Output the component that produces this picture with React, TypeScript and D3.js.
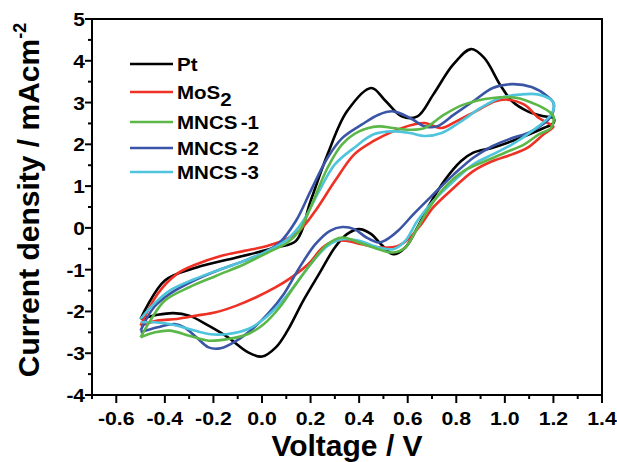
import React from "react";
import * as d3 from "d3";

type P = [number, number];

const xTicks = [-0.6, -0.4, -0.2, 0.0, 0.2, 0.4, 0.6, 0.8, 1.0, 1.2, 1.4];
const xMinor = [-0.7, -0.5, -0.3, -0.1, 0.1, 0.3, 0.5, 0.7, 0.9, 1.1, 1.3];
const yTicks = [-4, -3, -2, -1, 0, 1, 2, 3, 4, 5];
const yMinor = [-3.5, -2.5, -1.5, -0.5, 0.5, 1.5, 2.5, 3.5, 4.5];

const seriesNames = ["Pt", "MoS2", "MNCS-1", "MNCS-2", "MNCS-3"];
const seriesColors = ["#000000", "#ee3124", "#5bb848", "#3a55a6", "#4fc4dd"];

const ptData: P[] = [
  [-0.5, -2.18], [-0.4, -1.26], [-0.27, -0.95], [-0.105, -0.71], [0.057, -0.47], [0.14, -0.31],
  [0.2, 0.64], [0.27, 1.76], [0.35, 2.79], [0.45, 3.35], [0.51, 3.03], [0.575, 2.67], [0.64, 2.67],
  [0.705, 3.19], [0.786, 3.9], [0.86, 4.28], [0.915, 4.07], [0.98, 3.43], [1.03, 3.03], [1.094, 2.79],
  [1.16, 2.67], [1.2, 2.63], [1.2, 2.51], [1.16, 2.39], [1.03, 2.08], [0.95, 1.92], [0.87, 1.8],
  [0.82, 1.6], [0.75, 1.12], [0.69, 0.56], [0.64, 0.01], [0.59, -0.47], [0.54, -0.63], [0.49, -0.39],
  [0.45, -0.15], [0.4, -0.03], [0.35, -0.15], [0.3, -0.47], [0.235, -1.1], [0.17, -1.74], [0.105, -2.46],
  [0.057, -2.86], [0.0, -3.08], [-0.057, -2.98], [-0.14, -2.62], [-0.22, -2.34], [-0.3, -2.1],
  [-0.365, -2.04], [-0.43, -2.08], [-0.48, -2.15], [-0.5, -2.18],
];

const mos2Data: P[] = [
  [-0.5, -2.34], [-0.43, -1.58], [-0.35, -1.1], [-0.27, -0.87], [-0.17, -0.67], [-0.073, -0.55],
  [0.024, -0.43], [0.105, -0.25], [0.154, -0.07], [0.22, 0.41], [0.3, 1.12], [0.38, 1.76], [0.46, 2.08],
  [0.54, 2.31], [0.62, 2.47], [0.67, 2.51], [0.74, 2.39], [0.8, 2.55], [0.88, 2.79], [0.96, 3.03],
  [1.01, 3.07], [1.08, 2.95], [1.14, 2.63], [1.19, 2.47], [1.2, 2.42], [1.16, 2.24], [1.094, 1.92],
  [1.03, 1.76], [0.95, 1.6], [0.87, 1.36], [0.79, 0.96], [0.705, 0.49], [0.656, 0.09], [0.61, -0.23],
  [0.56, -0.43], [0.49, -0.47], [0.41, -0.39], [0.35, -0.31], [0.3, -0.31], [0.25, -0.47], [0.19, -0.87],
  [0.12, -1.19], [0.057, -1.42], [-0.024, -1.66], [-0.105, -1.86], [-0.19, -2.02], [-0.27, -2.1],
  [-0.35, -2.18], [-0.43, -2.22], [-0.5, -2.34],
];

const mncs1Data: P[] = [
  [-0.5, -2.62], [-0.46, -2.22], [-0.4, -1.74], [-0.3, -1.42], [-0.19, -1.15], [-0.073, -0.87],
  [0.024, -0.59], [0.105, -0.35], [0.154, -0.07], [0.2, 0.49], [0.27, 1.44], [0.33, 2.0], [0.4, 2.31],
  [0.48, 2.43], [0.54, 2.39], [0.61, 2.35], [0.67, 2.39], [0.75, 2.71], [0.83, 2.95], [0.95, 3.11],
  [1.05, 3.11], [1.13, 2.95], [1.18, 2.79], [1.2, 2.67], [1.19, 2.39], [1.14, 2.24], [1.08, 2.0],
  [1.0, 1.8], [0.92, 1.6], [0.83, 1.36], [0.75, 0.96], [0.69, 0.49], [0.64, 0.0], [0.59, -0.47],
  [0.54, -0.59], [0.48, -0.51], [0.4, -0.35], [0.33, -0.23], [0.27, -0.39], [0.2, -0.87], [0.14, -1.34],
  [0.073, -1.9], [0.008, -2.3], [-0.057, -2.54], [-0.14, -2.66], [-0.22, -2.7], [-0.3, -2.58],
  [-0.38, -2.46], [-0.44, -2.5], [-0.5, -2.62],
];

const mncs2Data: P[] = [
  [-0.5, -2.46], [-0.445, -1.9], [-0.38, -1.58], [-0.28, -1.26], [-0.17, -0.99], [-0.073, -0.79],
  [0.008, -0.59], [0.073, -0.35], [0.14, 0.17], [0.2, 0.88], [0.27, 1.68], [0.33, 2.15], [0.41, 2.47],
  [0.48, 2.71], [0.54, 2.79], [0.61, 2.63], [0.67, 2.43], [0.72, 2.43], [0.79, 2.71], [0.87, 3.03],
  [0.95, 3.35], [1.03, 3.44], [1.11, 3.37], [1.175, 3.15], [1.2, 2.99], [1.19, 2.67], [1.11, 2.31],
  [1.03, 2.15], [0.95, 1.96], [0.87, 1.68], [0.79, 1.28], [0.705, 0.8], [0.624, 0.33], [0.56, -0.07],
  [0.51, -0.29], [0.48, -0.35], [0.43, -0.23], [0.38, -0.03], [0.33, 0.02], [0.28, -0.07], [0.22, -0.39],
  [0.154, -0.95], [0.09, -1.58], [0.024, -2.06], [-0.04, -2.42], [-0.105, -2.7], [-0.17, -2.88],
  [-0.22, -2.86], [-0.27, -2.62], [-0.32, -2.38], [-0.36, -2.3], [-0.43, -2.38], [-0.5, -2.5],
];

const mncs3Data: P[] = [
  [-0.5, -2.18], [-0.445, -1.82], [-0.38, -1.5], [-0.28, -1.23], [-0.17, -0.99], [-0.073, -0.79],
  [0.024, -0.55], [0.105, -0.27], [0.17, 0.17], [0.235, 0.88], [0.3, 1.52], [0.38, 1.92], [0.46, 2.24],
  [0.54, 2.31], [0.61, 2.27], [0.67, 2.2], [0.74, 2.27], [0.82, 2.55], [0.9, 2.87], [0.98, 3.11],
  [1.06, 3.19], [1.14, 3.19], [1.2, 3.0], [1.19, 2.71], [1.11, 2.31], [1.03, 2.0], [0.95, 1.76],
  [0.87, 1.52], [0.79, 1.12], [0.705, 0.64], [0.64, 0.17], [0.59, -0.31], [0.54, -0.51], [0.48, -0.47],
  [0.4, -0.31], [0.33, -0.27], [0.27, -0.43], [0.2, -0.87], [0.14, -1.34], [0.073, -1.82], [0.008, -2.18],
  [-0.057, -2.42], [-0.14, -2.54], [-0.22, -2.54], [-0.3, -2.42], [-0.38, -2.3], [-0.445, -2.26],
  [-0.5, -2.26],
];

const seriesData: P[][] = [ptData, mos2Data, mncs1Data, mncs2Data, mncs3Data];
const drawOrder = [0, 1, 3, 4, 2];

const W = 617;
const H = 462;
const plot = { left: 92, right: 602, top: 19, bottom: 395 };
const FONT = "'Liberation Sans', Arial, Helvetica, sans-serif";

export default function App() {
  const x = d3.scaleLinear().domain([-0.7, 1.4]).range([plot.left, plot.right]);
  const y = d3.scaleLinear().domain([-4, 5]).range([plot.bottom, plot.top]);
  const line = d3
    .line<P>()
    .x((d) => x(d[0]))
    .y((d) => y(d[1]))
    .curve(d3.curveCatmullRom.alpha(0.5));

  const legendY = [64, 92, 122, 148, 172];

  return (
    <svg
      width={W}
      height={H}
      style={{ position: "absolute", left: 0, top: 0, background: "#fff" }}
      fontFamily={FONT}
    >
      <rect x={0} y={0} width={W} height={H} fill="#fff" />
      {drawOrder.map((i) => (
        <path
          key={seriesNames[i]}
          d={line(seriesData[i]) || ""}
          fill="none"
          stroke={seriesColors[i]}
          strokeWidth={2.6}
          strokeLinejoin="round"
        />
      ))}
      <rect
        x={plot.left}
        y={plot.top}
        width={plot.right - plot.left}
        height={plot.bottom - plot.top}
        fill="none"
        stroke="#000"
        strokeWidth={2}
      />
      {xTicks.map((t) => (
        <g key={"xt" + t}>
          <line x1={x(t)} x2={x(t)} y1={plot.bottom} y2={plot.bottom + 8} stroke="#000" strokeWidth={2} />
          <text
            x={x(t)}
            y={425}
            textAnchor="middle"
            fontSize={19}
            fontWeight="bold"
            transform={`translate(${x(t)},0) scale(1.12,1) translate(${-x(t)},0)`}
          >
            {t.toFixed(1)}
          </text>
        </g>
      ))}
      {xMinor.map((t) => (
        <line key={"xm" + t} x1={x(t)} x2={x(t)} y1={plot.bottom} y2={plot.bottom + 4} stroke="#000" strokeWidth={2} />
      ))}
      {yTicks.map((t) => (
        <g key={"yt" + t}>
          <line x1={plot.left - 7} x2={plot.left} y1={y(t)} y2={y(t)} stroke="#000" strokeWidth={2} />
          <text
            x={85}
            y={y(t) + 7}
            textAnchor="end"
            fontSize={19}
            fontWeight="bold"
            transform={`translate(85,0) scale(1.1,1) translate(-85,0)`}
          >
            {String(t)}
          </text>
        </g>
      ))}
      {yMinor.map((t) => (
        <line key={"ym" + t} x1={plot.left - 4} x2={plot.left} y1={y(t)} y2={y(t)} stroke="#000" strokeWidth={2} />
      ))}
      <text
        x={(plot.left + plot.right) / 2}
        y={456}
        textAnchor="middle"
        fontSize={30}
        fontWeight="bold"
      >
        Voltage / V
      </text>
      <text
        transform={`translate(39,${(plot.top + plot.bottom) / 2 - 7}) rotate(-90)`}
        textAnchor="middle"
        fontSize={30}
        fontWeight="bold"
      >
        Current density / mAcm
        <tspan dy={-13} fontSize={18}>-2</tspan>
      </text>
      {seriesNames.map((n, i) => (
        <g key={"lg" + n}>
          <line x1={130} x2={173} y1={legendY[i]} y2={legendY[i]} stroke={seriesColors[i]} strokeWidth={2.6} />
          <text
            x={177}
            y={legendY[i] + 7}
            fontSize={19}
            fontWeight="bold"
            transform={`translate(177,0) scale(1.08,1) translate(-177,0)`}
          >
            {n === "MoS2" ? (
              <>
                MoS<tspan dy={7} fontSize={19}>2</tspan>
              </>
            ) : n.startsWith("MNCS") ? (
              <>
                MNCS<tspan dx={3}>{n.slice(4)}</tspan>
              </>
            ) : (
              n
            )}
          </text>
        </g>
      ))}
    </svg>
  );
}
